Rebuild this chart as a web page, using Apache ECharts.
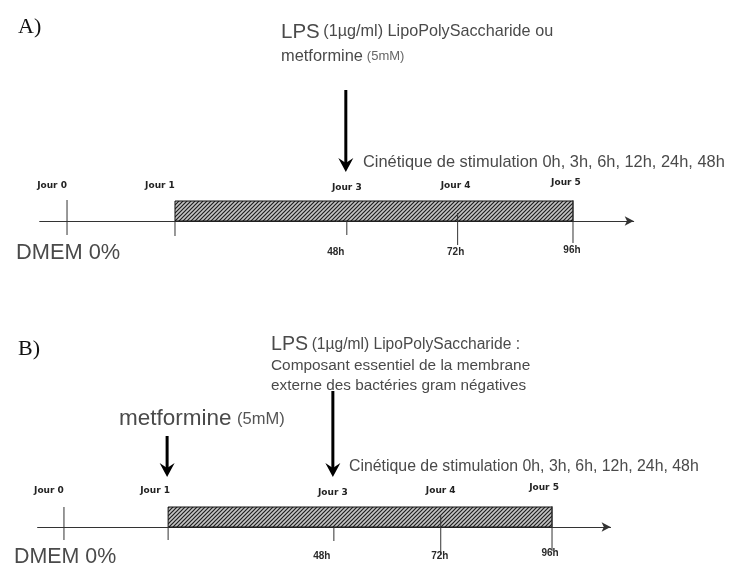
<!DOCTYPE html>
<html><head><meta charset="utf-8">
<script src="https://cdn.jsdelivr.net/npm/echarts@6/dist/echarts.min.js"></script>
<style>html,body{margin:0;padding:0;background:#fff}#c{width:729px;height:568px}</style>
</head><body><div id="c"></div>
<script>
// ---- data ----
const dayLabels = ['Jour 0', 'Jour 1', 'Jour 3', 'Jour 4', 'Jour 5'];
const hourLabels = ['', '', '48h', '72h', '96h'];
// position of each day mark on the (schematic) timeline
const dayPositions = [0, 1.067, 2.765, 3.86, 5];
const culturePeriod = [1.067, 5];            // hatched block: Jour 1 -> Jour 5
const stimulationTimes = ['0h', '3h', '6h', '12h', '24h', '48h'];
const arrowsA = [2];      // LPS ou metformine added at Jour 3
const arrowsB = [1, 2];   // metformine at Jour 1, LPS at Jour 3

// ---- styles ----
const sans = '"Liberation Sans",Arial,sans-serif';
const tickFont = 'bold 9px "DejaVu Sans",sans-serif';
const hourFont = 'bold 10px "Liberation Sans",sans-serif';
const ink = '#333';
const txtCol = '#4a4a4a';
const tickStyleA = { ext: [[21,14],[0,15],[0,14],[8,24],[21,22]], dayDx: [-15,-15,0,-2,-7], dayDy: [-35,-35,-33,-35,-38], hourDx: [0,0,-11,-2,-1], hourDy: [0,0,31,31,29] };
const tickStyleB = { ext: [[20,13],[0,13],[0,14],[11,28],[21,24]], dayDx: [-15,-13,-1,0,-8], dayDy: [-36,-36,-34,-36,-39], hourDx: [0,0,-12,-1,-2], hourDy: [0,0,29,29,26] };
const arrowStyleA = [[131, 49]];
const arrowStyleB = [[91, 50], [136, 50]];

// hatch pattern
const pc = document.createElement('canvas'); pc.width = 4; pc.height = 4;
const g = pc.getContext('2d');
g.fillStyle = '#c4c4c4'; g.fillRect(0, 0, 4, 4);
g.strokeStyle = '#1e1e1e'; g.lineWidth = 1.2;
g.beginPath(); g.moveTo(0, 4); g.lineTo(4, 0); g.moveTo(-1, 1); g.lineTo(1, -1); g.moveTo(3, 5); g.lineTo(5, 3); g.stroke();
const hatch = { image: pc, repeat: 'repeat' };

function tickSeries(gi, st) {
  return {
    type: 'custom', xAxisIndex: gi, yAxisIndex: gi, clip: false, z: 5,
    data: dayPositions.map((p, i) => [p, i]),
    renderItem: function (params, api) {
      const i = params.dataIndex;
      const p = api.coord([api.value(0), 0]);
      const ch = [
        { type: 'line', shape: { x1: p[0], y1: p[1] - st.ext[i][0], x2: p[0], y2: p[1] + st.ext[i][1] }, style: { stroke: ink, lineWidth: 1 } },
        { type: 'text', x: p[0] + st.dayDx[i], y: p[1] + st.dayDy[i], style: { text: dayLabels[i], font: tickFont, fill: '#222', textAlign: 'center', textVerticalAlign: 'middle' } }
      ];
      if (hourLabels[i]) ch.push({ type: 'text', x: p[0] + st.hourDx[i], y: p[1] + st.hourDy[i], style: { text: hourLabels[i], font: hourFont, fill: '#2a2a2a', textAlign: 'center', textVerticalAlign: 'middle' } });
      return { type: 'group', children: ch };
    }
  };
}
function blockSeries(gi) {
  return {
    type: 'custom', xAxisIndex: gi, yAxisIndex: gi, clip: false, z: 3,
    data: [culturePeriod],
    renderItem: function (params, api) {
      const a = api.coord([api.value(0), 0]);
      const b = api.coord([api.value(1), 0]);
      return { type: 'rect', shape: { x: a[0], y: a[1] - 20, width: b[0] - a[0], height: 20 }, style: { fill: hatch, stroke: '#111', lineWidth: 1 } };
    }
  };
}
function arrowSeries(gi, idx, st) {
  return {
    type: 'custom', xAxisIndex: gi, yAxisIndex: gi, clip: false, z: 6,
    data: idx.map(k => [dayPositions[k]]),
    renderItem: function (params, api) {
      const i = params.dataIndex;
      const p = api.coord([api.value(0), 0]);
      const x = p[0] - 1, top = p[1] - st[i][0], tip = p[1] - st[i][1];
      return { type: 'group', children: [
        { type: 'line', shape: { x1: x, y1: top, x2: x, y2: tip - 8 }, style: { stroke: '#000', lineWidth: 3 } },
        { type: 'polygon', shape: { points: [[x - 7.5, tip - 14], [x, tip - 9], [x + 7.5, tip - 14], [x, tip]] }, style: { fill: '#000' } }
      ] };
    }
  };
}
function xAx(gi) {
  return { type: 'value', gridIndex: gi, min: -0.27, max: 5.6, position: 'bottom',
    axisLine: { show: true, onZero: false, symbol: ['none', 'arrow'], symbolSize: [7, 9], lineStyle: { color: ink, width: 1 } },
    axisTick: { show: false }, axisLabel: { show: false }, splitLine: { show: false } };
}
function yAx(gi) { return { type: 'value', gridIndex: gi, min: 0, max: 1, show: false }; }

function txt(x, y, text, font, fill, rich) {
  const s = { text: text, font: font, fill: fill || txtCol, textVerticalAlign: 'middle' };
  if (rich) s.rich = rich;
  return { type: 'text', x: x, y: y, style: s };
}
const stimText = 'Cinétique de stimulation ' + stimulationTimes.join(', ');
const px = n => n + 'px ' + sans;

const chart = echarts.init(document.getElementById('c'), null, { renderer: 'canvas' });
chart.setOption({
  backgroundColor: '#fff',
  animation: false,
  grid: [
    { left: 39.7, width: 594, top: 150, height: 71 },
    { left: 37.6, width: 573, top: 450, height: 77 }
  ],
  xAxis: [xAx(0), xAx(1)],
  yAxis: [yAx(0), yAx(1)],
  series: [
    blockSeries(0), tickSeries(0, tickStyleA), arrowSeries(0, arrowsA, arrowStyleA),
    blockSeries(1), tickSeries(1, tickStyleB), arrowSeries(1, arrowsB, arrowStyleB)
  ],
  graphic: [
    txt(18, 27, 'A)', '22px "Liberation Serif",serif', '#111'),
    txt(281, 32, '{b|LPS} {s|(1µg/ml) LipoPolySaccharide ou}', px(13), txtCol,
      { b: { font: px(20.5), fill: txtCol }, s: { font: px(16.2), fill: txtCol } }),
    txt(281, 56, '{m|metformine} {s|(5mM)}', px(14), txtCol,
      { m: { font: px(16.4), fill: txtCol }, s: { font: px(13), fill: '#666' } }),
    txt(363, 162, stimText, px(16.4), txtCol),
    txt(16, 253, 'DMEM 0%', px(21.8), txtCol),

    txt(18, 349, 'B)', '22px "Liberation Serif",serif', '#111'),
    txt(271, 345, '{b|LPS} {s|(1µg/ml) LipoPolySaccharide :}', px(13), txtCol,
      { b: { font: px(19.6), fill: txtCol }, s: { font: px(15.6), fill: txtCol } }),
    txt(271, 366, 'Composant essentiel de la membrane', px(15.4), txtCol),
    txt(271, 386, 'externe des bactéries gram négatives', px(15.3), txtCol),
    txt(119, 419, '{m|metformine} {s|(5mM)}', px(20), txtCol,
      { m: { font: px(22.5), fill: txtCol }, s: { font: px(16.5), fill: '#555' } }),
    txt(349, 467, stimText, px(15.85), txtCol),
    txt(14, 557, 'DMEM 0%', px(21.4), txtCol)
  ]
});
</script></body></html>
